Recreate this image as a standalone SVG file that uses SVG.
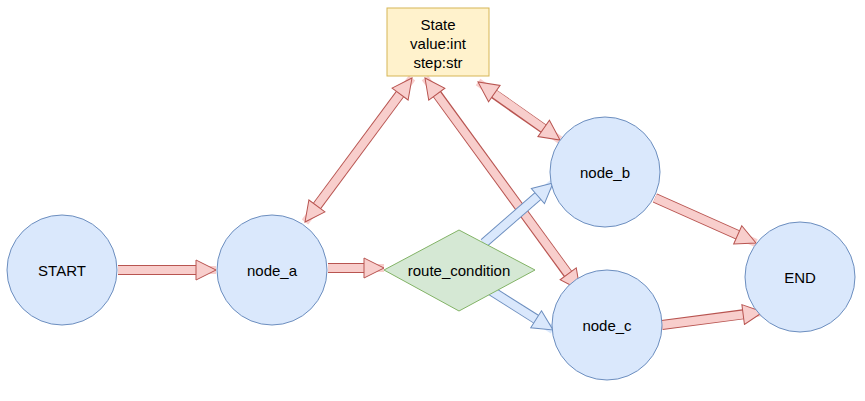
<svg xmlns="http://www.w3.org/2000/svg" width="865" height="401" viewBox="0 0 865 401">
<style>
.n{fill:#dae8fc;stroke:#6c8ebf;stroke-width:1}
.t{font-family:"Liberation Sans",Arial,sans-serif;font-size:15px;fill:#000;text-anchor:middle;dominant-baseline:central}
.ro{stroke:#b85450;stroke-width:10;fill:none}
.ri{stroke:#f8cecc;stroke-width:8;fill:none}
.bo{stroke:#6c8ebf;stroke-width:10;fill:none}
.bi{stroke:#dae8fc;stroke-width:8;fill:none}
</style>
<defs>
<marker id="hr" markerUnits="userSpaceOnUse" viewBox="-1 -11 22 22" refX="20" refY="0" markerWidth="22" markerHeight="22" orient="auto-start-reverse"><path d="M0,-10 L20,0 L0,10 Z" fill="#f8cecc" stroke="#b85450" stroke-width="1"/></marker>
<marker id="hb" markerUnits="userSpaceOnUse" viewBox="-1 -11 22 22" refX="20" refY="0" markerWidth="22" markerHeight="22" orient="auto-start-reverse"><path d="M0,-10 L20,0 L0,10 Z" fill="#dae8fc" stroke="#6c8ebf" stroke-width="1"/></marker>
</defs>
<g id="connectors">
<path class="ro" d="M118,270 L198,270"/><path class="ri" d="M118,270 L216,270" marker-end="url(#hr)"/>
<path class="ro" d="M328,268 L366,268"/><path class="ri" d="M328,268 L384,268" marker-end="url(#hr)"/>
<path class="ro" d="M317,206 L400,94"/><path class="ri" d="M305,222 L412,78" marker-start="url(#hr)" marker-end="url(#hr)"/>
<path class="ro" d="M437,94 L568,274"/><path class="ri" d="M425,78 L580,290" marker-start="url(#hr)" marker-end="url(#hr)"/>
<path class="ro" d="M494,94 L544,129"/><path class="ri" d="M478,82 L560,140" marker-start="url(#hr)" marker-end="url(#hr)"/>
<path class="ro" d="M655,198 L738,235"/><path class="ri" d="M655,198 L756,243" marker-end="url(#hr)"/>
<path class="ro" d="M662,325 L745,314"/><path class="ri" d="M662,325 L763,312" marker-end="url(#hr)"/>
<path class="bo" d="M484,243 L538,196"/><path class="bi" d="M484,243 L553,183" marker-end="url(#hb)"/>
<path class="bo" d="M490,290 L536,319"/><path class="bi" d="M490,290 L553,330" marker-end="url(#hb)"/>
</g>
<g id="state"><rect x="387" y="8" width="102" height="68" fill="#fff2cc" stroke="#d6b656"/><text class="t" x="438" y="24">State</text><text class="t" x="438" y="43">value:int</text><text class="t" x="438" y="62">step:str</text></g>
<g id="start"><circle class="n" cx="62" cy="270" r="55"/><text class="t" x="62" y="270">START</text></g>
<g id="node_a"><circle class="n" cx="272" cy="270" r="55"/><text class="t" x="272" y="270">node_a</text></g>
<g id="route_condition"><path d="M459,230 L535,270 L459,311 L384,270 Z" fill="#d5e8d4" stroke="#82b366"/><text class="t" x="459" y="270">route_condition</text></g>
<g id="node_b"><circle class="n" cx="605" cy="172" r="55"/><text class="t" x="605" y="172">node_b</text></g>
<g id="node_c"><circle class="n" cx="607" cy="325" r="55"/><text class="t" x="607" y="325">node_c</text></g>
<g id="end"><circle class="n" cx="800" cy="277" r="55"/><text class="t" x="800" y="277">END</text></g>
</svg>
